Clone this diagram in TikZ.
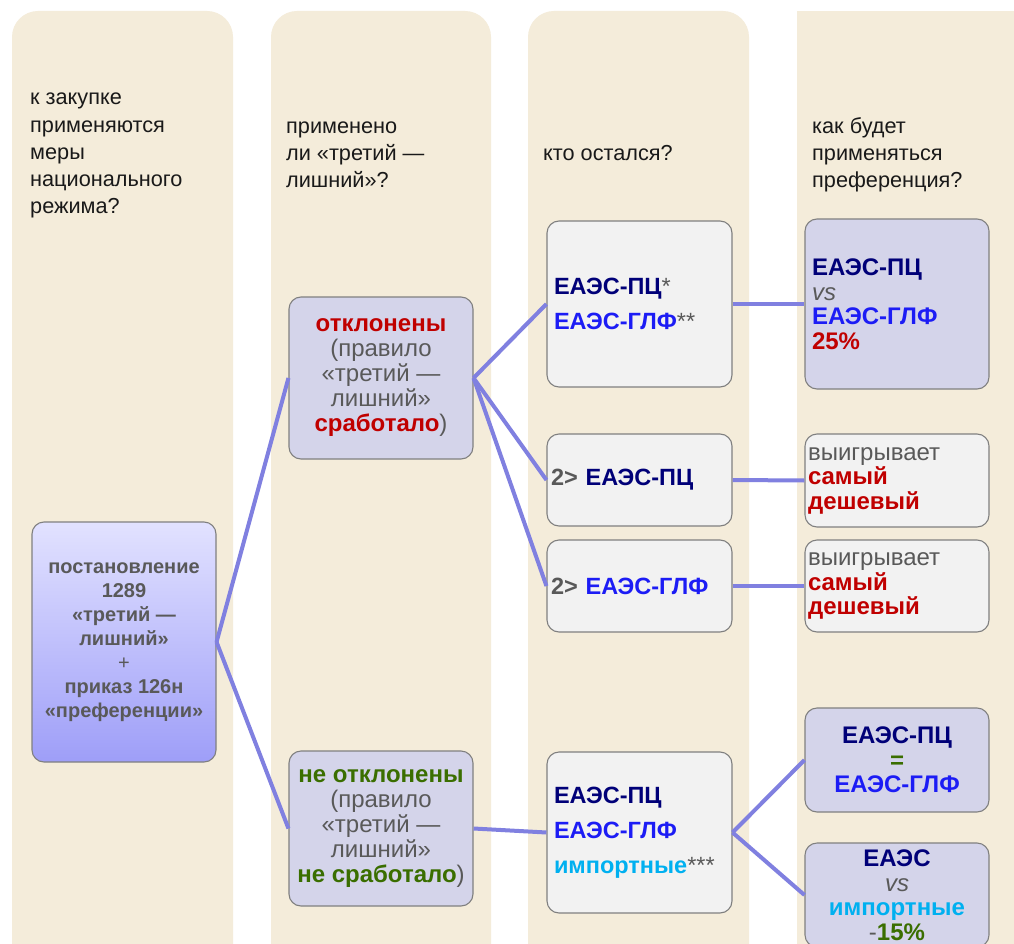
\documentclass[tikz,border=0pt]{standalone}
\usepackage{fontspec}
\setmainfont{Liberation Sans}
\setsansfont{Liberation Sans}
\definecolor{beige}{RGB}{244,236,218}
\definecolor{navyT}{RGB}{0,0,120}
\definecolor{blueT}{RGB}{28,28,245}
\definecolor{redT}{RGB}{192,0,0}
\definecolor{greenT}{RGB}{58,110,0}
\definecolor{cyanT}{RGB}{0,176,240}
\definecolor{grayT}{RGB}{89,89,89}
\definecolor{lavF}{RGB}{212,212,234}
\definecolor{whtF}{RGB}{242,242,242}
\definecolor{bordG}{RGB}{128,128,128}
\definecolor{connC}{RGB}{128,128,224}
\definecolor{gradTop}{RGB}{226,226,255}
\definecolor{gradBot}{RGB}{158,158,248}
\newcommand\eaesPC{\textcolor{navyT}{\bfseries ЕАЭС-ПЦ}}
\newcommand\eaesGLF{\textcolor{blueT}{\bfseries ЕАЭС-ГЛФ}}
\newcommand\grayreg[1]{\textcolor{grayT}{\mdseries #1}}
\begin{document}
\begin{tikzpicture}[x=1pt,y=-1pt,
  boxbase/.style={draw=bordG, line width=1.1pt, rounded corners=12pt, inner sep=0pt, minimum width=184pt},
  lavbox/.style={boxbase, fill=lavF},
  whtbox/.style={boxbase, fill=whtF},
  hdr/.style={anchor=base west, inner sep=0pt, align=left, font=\fontsize{21.7}{27.3}\selectfont, text=black!90},
  conn/.style={draw=connC, line width=4pt},
  midtxt/.style={font=\fontsize{24}{25}\selectfont, align=center, text=grayT},
  leftlist/.style={font=\fontsize{23.5}{35}\selectfont, align=left},
  rtxt/.style={font=\fontsize{24}{24.5}\selectfont},
]
\useasboundingbox (0,0) rectangle (1014,944);
\begin{scope}
\clip (0,0) rectangle (1014,944);
\fill[white] (0,0) rectangle (1014,944);
\fill[beige, rounded corners=26pt] (12,1000) -- (12,11) -- (233,11) -- (233,1000) -- cycle;
\fill[beige, rounded corners=26pt] (271,1000) -- (271,11) -- (491,11) -- (491,1000) -- cycle;
\fill[beige, rounded corners=26pt] (528,1000) -- (528,11) -- (749,11) -- (749,1000) -- cycle;
\fill[beige] (797,11) rectangle (1030,1000);

\node[hdr] (h1) at (30,214) {к закупке\\применяются\\меры\\национального\\режима?};
\node[hdr] (h2) at (286,188) {применено\\ли «третий —\\лишний»?};
\node[hdr] (h3) at (543,161) {кто остался?};
\node[hdr] (h4) at (812,188) {как будет\\применяться\\преференция?};

\node[boxbase, top color=gradTop, bottom color=gradBot, minimum height=240pt,
      font=\fontsize{20}{24}\selectfont\bfseries, align=center, text=grayT] (src) at (124,642)
  {постановление\\1289\\«третий —\\лишний»\\{\mdseries +}\\приказ 126н\\«преференции»};

\node[lavbox, minimum height=162pt, midtxt] (rej) at (381,378)
  {\textcolor{redT}{\bfseries отклонены}\\(правило\\«третий —\\лишний»\\\textcolor{redT}{\bfseries сработало})};
\node[lavbox, minimum height=155pt, midtxt] (nrej) at (381,828.5)
  {\textcolor{greenT}{\bfseries не отклонены}\\(правило\\«третий —\\лишний»\\\textcolor{greenT}{\bfseries не сработало})};

\node[whtbox, minimum width=185pt, minimum height=166pt, text width=171pt, leftlist] (a3) at (639.5,304)
  {\eaesPC\grayreg{*}\\\eaesGLF\grayreg{**}};
\node[whtbox, minimum width=185pt, minimum height=92pt, text width=177pt, leftlist] (b3) at (639.5,480)
  {\textcolor{grayT}{\bfseries 2>} \eaesPC};
\node[whtbox, minimum width=185pt, minimum height=92pt, text width=177pt, leftlist] (c3) at (639.5,586)
  {\textcolor{grayT}{\bfseries 2>} \eaesGLF};
\node[whtbox, minimum width=185pt, minimum height=161pt, text width=171pt, leftlist] (d3) at (639.5,832.5)
  {\eaesPC\\\eaesGLF\\\textcolor{cyanT}{\bfseries импортные}\grayreg{***}};

\node[lavbox, minimum height=170pt, text width=170pt, align=left, rtxt] (a4) at (897,304)
  {\eaesPC\\\textcolor{grayT}{\itshape vs}\\\eaesGLF\\\textcolor{redT}{\bfseries 25\%}};
\node[whtbox, minimum height=93pt, text width=178pt, align=left, rtxt] (b4) at (897,480.5)
  {\textcolor{grayT}{выигрывает}\\\textcolor{redT}{\bfseries самый}\\\textcolor{redT}{\bfseries дешевый}};
\node[whtbox, minimum height=92pt, text width=178pt, align=left, rtxt] (c4) at (897,586)
  {\textcolor{grayT}{выигрывает}\\\textcolor{redT}{\bfseries самый}\\\textcolor{redT}{\bfseries дешевый}};
\node[lavbox, minimum height=104pt, align=center, rtxt] (d4) at (897,760)
  {\eaesPC\\\textcolor{greenT}{\bfseries =}\\\eaesGLF};
\node[lavbox, minimum height=104pt, align=center, rtxt] (e4) at (897,895)
  {\textcolor{navyT}{\bfseries ЕАЭС}\\\textcolor{grayT}{\itshape vs}\\\textcolor{cyanT}{\bfseries импортные}\\\textcolor{grayT}{-}\textcolor{greenT}{\bfseries 15\%}};

\draw[conn] (src.east) -- (rej.west);
\draw[conn] (src.east) -- (nrej.west);
\draw[conn] (rej.east) -- (a3.west);
\draw[conn] (rej.east) -- (b3.west);
\draw[conn] (rej.east) -- (c3.west);
\draw[conn] (a3.east) -- (a4.west);
\draw[conn] (b3.east) -- (b4.west);
\draw[conn] (c3.east) -- (c4.west);
\draw[conn] (nrej.east) -- (d3.west);
\draw[conn] (d3.east) -- (d4.west);
\draw[conn] (d3.east) -- (e4.west);
\end{scope}
\end{tikzpicture}
\end{document}
